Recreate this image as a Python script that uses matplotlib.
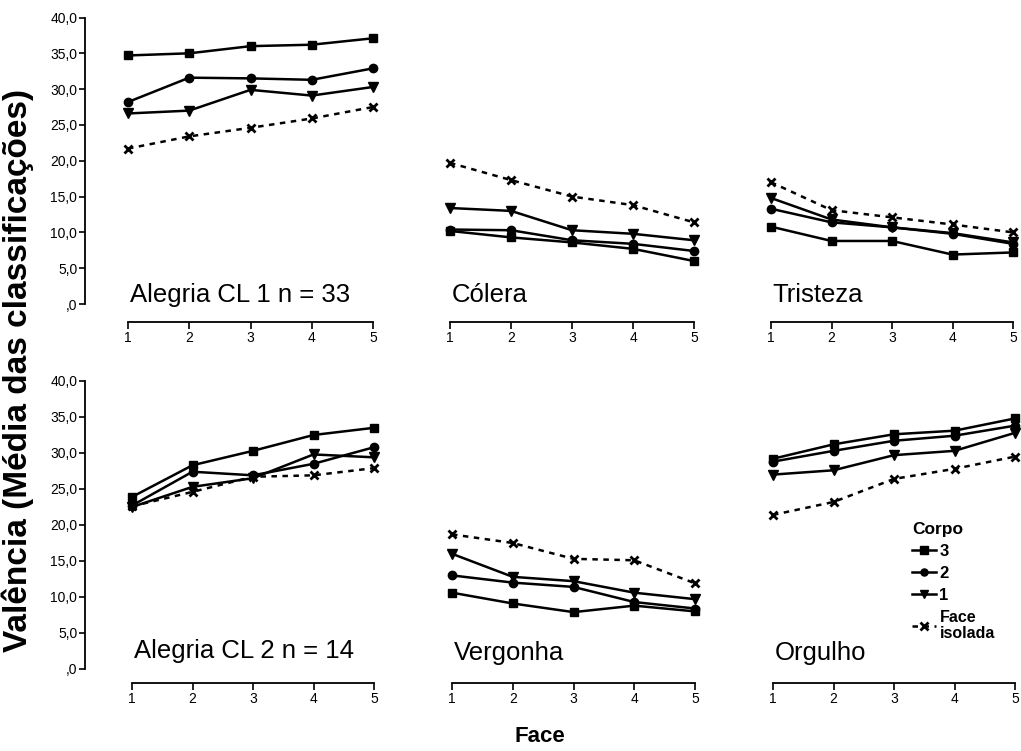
import matplotlib
matplotlib.use("Agg")
import matplotlib.pyplot as plt
import numpy as np

plt.rcParams['font.family'] = ['Liberation Sans', 'DejaVu Sans']

faces = [1, 2, 3, 4, 5]
y_ticks = [0, 5, 10, 15, 20, 25, 30, 35, 40]
y_tick_labels = [',0', '5,0', '10,0', '15,0', '20,0', '25,0', '30,0', '35,0', '40,0']

panel_titles = ['Alegria CL 1 n = 33', 'Cólera', 'Tristeza',
                'Alegria CL 2 n = 14', 'Vergonha', 'Orgulho']

# Mean ratings per face level, one list per body condition
corpo3 = [
    [34.7, 35.0, 36.0, 36.2, 37.1],
    [10.2, 9.3, 8.6, 7.7, 6.0],
    [10.8, 8.8, 8.8, 6.9, 7.2],
    [23.9, 28.3, 30.3, 32.5, 33.5],
    [10.6, 9.1, 7.9, 8.8, 8.0],
    [29.2, 31.2, 32.6, 33.1, 34.8],
]
corpo2 = [
    [28.2, 31.6, 31.5, 31.3, 32.9],
    [10.4, 10.3, 8.9, 8.4, 7.4],
    [13.3, 11.4, 10.7, 9.8, 8.4],
    [22.7, 27.4, 26.9, 28.5, 30.8],
    [13.0, 12.0, 11.4, 9.3, 8.4],
    [28.8, 30.3, 31.7, 32.4, 33.8],
]
corpo1 = [
    [26.6, 27.0, 29.9, 29.1, 30.3],
    [13.4, 13.0, 10.3, 9.8, 8.9],
    [14.8, 11.8, 10.7, 9.9, 8.6],
    [22.5, 25.3, 26.5, 29.8, 29.4],
    [16.0, 12.8, 12.2, 10.6, 9.7],
    [27.0, 27.6, 29.7, 30.3, 32.8],
]
face_isolada = [
    [21.7, 23.4, 24.6, 25.9, 27.5],
    [19.7, 17.3, 15.0, 13.8, 11.4],
    [17.0, 13.1, 12.1, 11.1, 10.0],
    [22.6, 24.6, 26.7, 26.9, 27.9],
    [18.7, 17.5, 15.3, 15.1, 11.9],
    [21.4, 23.2, 26.4, 27.8, 29.5],
]

legend_labels = ['3', '2', '1', 'Face\nisolada']

W, H = 1021, 751
fig = plt.figure(figsize=(W / 100, H / 100), dpi=100)

# Axes boxes in pixel terms: (left, right, top-of-40, zero-line)
boxes = [
    (128, 373, 17.5, 304), (450, 694, 17.5, 304), (771, 1013, 17.5, 304),
    (132, 374, 381, 669), (452, 695, 381, 669), (773, 1015, 381, 669),
]
xaxis_drop = [17.5, 17.5, 17.5, 14, 14, 14]
title_y = [0.3, 0.3, 0.3, 1.5, 1.3, 1.3]

line_kw = dict(color='black', lw=1.8, clip_on=False)
axes = []
for i, (l, r, t, b) in enumerate(boxes):
    ax = fig.add_axes([l / W, 1 - b / H, (r - l) / W, (b - t) / H])
    ax.set_xlim(1, 5)
    ax.set_ylim(0, 40)
    ax.patch.set_visible(False)

    h3, = ax.plot(faces, corpo3[i], marker='s', ms=6, **line_kw)
    h2, = ax.plot(faces, corpo2[i], marker='o', ms=6, **line_kw)
    h1, = ax.plot(faces, corpo1[i], marker='v', ms=7, **line_kw)
    hf, = ax.plot(faces, face_isolada[i], marker='x', ms=6, mew=2,
                  color='black', lw=1.8, ls=(0, (2.2, 2.2)), clip_on=False)

    for s in ['top', 'right']:
        ax.spines[s].set_visible(False)
    ax.spines['bottom'].set_bounds(1, 5)
    ax.spines['bottom'].set_position(('axes', -xaxis_drop[i] / (b - t)))
    ax.spines['bottom'].set_linewidth(1.3)
    ax.set_xticks(faces)
    ax.set_xticklabels([str(f) for f in faces])
    ax.tick_params(axis='x', direction='out', length=5, width=1.2, pad=1.5,
                   labelsize=10)

    if i % 3 == 0:
        ax.spines['left'].set_bounds(0, 40)
        ax.spines['left'].set_position(('axes', -(l - 85) / (r - l)))
        ax.spines['left'].set_linewidth(1.3)
        ax.set_yticks(y_ticks)
        ax.set_yticklabels(y_tick_labels)
        ax.tick_params(axis='y', direction='out', length=4, width=1.2, pad=1.5,
                       labelsize=10)
    else:
        ax.spines['left'].set_visible(False)
        ax.set_yticks([])

    ax.text(1.03, title_y[i], panel_titles[i], ha='left', va='baseline',
            fontsize=18.5)
    axes.append(ax)

    if i == 5:
        handles = [h3, h2, h1, hf]

leg = axes[5].legend(handles, legend_labels, title='Corpo', loc='upper left',
                     bbox_to_anchor=(912 / W, 1 - 522 / H),
                     bbox_transform=fig.transFigure, frameon=False,
                     prop={'weight': 'bold', 'size': 12},
                     title_fontproperties={'weight': 'bold', 'size': 12.5},
                     handlelength=1.45, handletextpad=0.2, labelspacing=0.42,
                     borderpad=0, borderaxespad=0, alignment='left',
                     markerscale=0.85)
leg.get_texts()[3].set_fontsize(11.5)
leg.get_texts()[3].set_linespacing(1.1)

fig.text(18 / W, 1 - 371 / H, 'Valência (Média das classificações)',
         rotation=90, ha='center', va='center', fontsize=24, fontweight='bold')
fig.text(540 / W, 1 - 737 / H, 'Face', ha='center', va='center',
         fontsize=16, fontweight='bold')

fig.savefig('out.png', dpi=100)
